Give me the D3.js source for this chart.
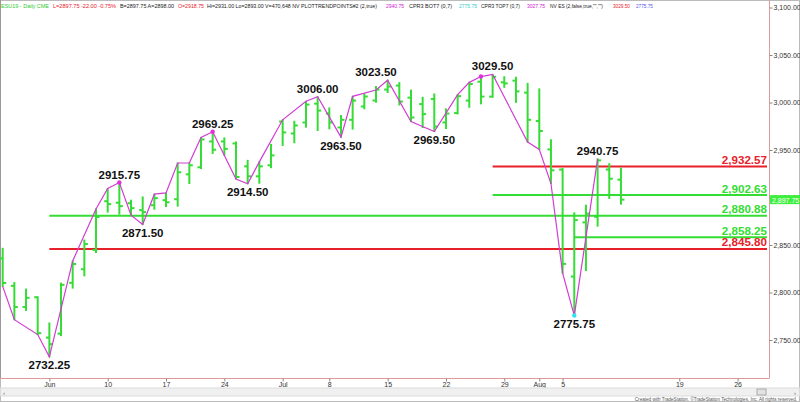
<!DOCTYPE html>
<html><head><meta charset="utf-8">
<script src="https://cdn.jsdelivr.net/npm/d3@7"></script>
<style>
html,body{margin:0;padding:0;background:#fff;overflow:hidden;}
svg{display:block;font-family:"Liberation Sans",Arial,sans-serif;}
</style></head><body>
<svg id="c" width="800" height="402"></svg>
<script>
// ---------- data ----------
const dates = ["2019-05-28","2019-05-29","2019-05-30","2019-05-31",
"2019-06-03","2019-06-04","2019-06-05","2019-06-06","2019-06-07",
"2019-06-10","2019-06-11","2019-06-12","2019-06-13","2019-06-14",
"2019-06-17","2019-06-18","2019-06-19","2019-06-20","2019-06-21",
"2019-06-24","2019-06-25","2019-06-26","2019-06-27","2019-06-28",
"2019-07-01","2019-07-02","2019-07-03","2019-07-05",
"2019-07-08","2019-07-09","2019-07-10","2019-07-11","2019-07-12",
"2019-07-15","2019-07-16","2019-07-17","2019-07-18","2019-07-19",
"2019-07-22","2019-07-23","2019-07-24","2019-07-25","2019-07-26",
"2019-07-29","2019-07-30","2019-07-31","2019-08-01","2019-08-02",
"2019-08-05","2019-08-06","2019-08-07","2019-08-08","2019-08-09",
"2019-08-12"];
const futureDates = ["2019-08-13","2019-08-14","2019-08-15","2019-08-16",
"2019-08-19","2019-08-20","2019-08-21","2019-08-22","2019-08-23",
"2019-08-26","2019-08-27","2019-08-28"];

const openV  = [2835.9,2807.0,2784.7,2795.0, 2752.5,2756.7,2810.2,2824.5,2844.8,
 2896.1,2894.5,2894.0,2886.7,2891.9, 2897.2,2898.2,2924.4,2931.8,2959.0,
 2959.0,2956.9,2932.8,2922.3,2933.9, 2980.0,2967.4,2979.0,2998.8,
 2988.4,2973.7,2981.8,2995.8,3002.1, 3013.6,3017.8,3005.1,2998.3,3003.6,
 2979.0,2988.9,3002.0,3021.9,3006.2, 3021.2,3023.0,3010.4,2980.6,2950.6,
 2929.4,2816.8,2873.8,2879.7,2929.4, 2918.75];
const highV  = [2846.5,2810.5,2803.6,2795.5, 2767.9,2809.9,2833.2,2855.2,2888.0,
 2909.4,2915.75,2897.2,2900.6,2903.5, 2904.8,2936.3,2936.3,2963.2,2969.25,
 2962.7,2958.5,2939.1,2937.5,2955.9, 2981.8,2980.3,3001.3,3006.0,
 2994.3,2986.3,3006.5,3009.1,3016.8, 3023.5,3020.9,3013.0,3005.5,3009.0,
 2993.3,3008.3,3021.2,3027.3,3029.5, 3027.1,3026.6,3020.1,3014.3,2960.8,
 2930.4,2883.9,2891.9,2940.75,2935.6, 2931.0];
const lowV   = [2806.5,2771.4,2781.1,2755.7, 2732.25,2754.6,2804.6,2817.5,2842.1,
 2884.6,2882.5,2881.4,2871.5,2887.7, 2890.4,2890.9,2914.7,2930.4,2946.4,
 2944.3,2919.5,2914.5,2915.0,2931.4, 2954.8,2957.7,2974.0,2970.5,
 2972.3,2963.5,2972.0,2993.4,3000.3, 3010.5,2997.4,2980.0,2973.7,2969.5,
 2972.6,2988.0,2995.0,2998.6,3005.5, 3016.0,3000.2,2958.3,2950.6,2914.7,
 2820.3,2775.75,2823.1,2869.9,2899.0, 2893.0];
const closeV = [2810.0,2784.7,2794.4,2757.2, 2745.7,2808.1,2830.0,2851.0,2879.4,
 2893.0,2890.9,2888.8,2884.6,2899.3, 2895.0,2926.5,2933.9,2961.1,2950.3,
 2951.2,2921.6,2922.3,2932.8,2944.3, 2968.5,2975.8,2997.8,2991.5,
 2979.0,2981.8,3002.0,3006.3,3013.6, 3016.8,3001.0,2984.2,2987.8,2974.7,
 2988.4,3006.7,3019.5,3006.2,3027.1, 3020.1,3011.7,2981.8,2970.0,2928.6,
 2830.1,2876.2,2883.0,2939.1,2919.75, 2897.75];

// swing (trend-point) line
const swingDates = ["2019-05-28","2019-05-29","2019-05-31","2019-06-03","2019-06-05",
 "2019-06-07","2019-06-10","2019-06-11","2019-06-12","2019-06-13","2019-06-14","2019-06-17",
 "2019-06-18","2019-06-19","2019-06-20","2019-06-21","2019-06-25","2019-06-26","2019-06-27",
 "2019-07-01","2019-07-03","2019-07-05","2019-07-09","2019-07-10","2019-07-12","2019-07-15",
 "2019-07-17","2019-07-19","2019-07-23","2019-07-24","2019-07-25","2019-07-26","2019-07-31",
 "2019-08-01","2019-08-02","2019-08-05","2019-08-06","2019-08-08"];
const swingValues = [2806.5,2771.4,2755.7,2732.25,2833.2,
 2888.0,2909.4,2915.75,2881.4,2871.5,2903.5,2904.8,
 2936.3,2936.3,2963.2,2969.25,2919.5,2914.5,2937.5,
 2981.8,3001.3,3006.0,2963.5,3006.5,3013.2,3023.5,
 2980.0,2969.5,3008.3,3021.2,3027.3,3029.5,2958.3,
 2950.6,2914.7,2820.3,2775.75,2940.75];

// labelled pivots
const pivotDates  = ["2019-06-03","2019-06-11","2019-06-13","2019-06-21","2019-06-26",
 "2019-07-05","2019-07-09","2019-07-12","2019-07-19","2019-07-26","2019-08-06","2019-08-08"];
const pivotValues = [2732.25,2915.75,2871.50,2969.25,2914.50,
 3006.00,2963.50,3023.50,2969.50,3029.50,2775.75,2940.75];
const pivotSide   = ["below","above","below","above","below",
 "above","below","above","below","above","below","above"];

// marker dots
const dotDates  = ["2019-06-11","2019-06-21","2019-07-25","2019-08-06"];
const dotValues = [2915.75,2969.25,3027.3,2775.75];
const dotKinds  = ["top","top","top","bottom"];

// retracement levels
const levelValues = [2932.57,2902.63,2880.88,2858.25,2845.80];
const levelKinds  = ["red","green","green","green","red"];
const levelStart  = ["2019-07-26","2019-07-26","2019-06-03","2019-08-06","2019-06-03"];

// axes
const yTicks = [2750,2800,2850,2900,2950,3000,3050,3100];
const xTickDates  = ["2019-06-03","2019-06-10","2019-06-17","2019-06-24","2019-07-01",
 "2019-07-08","2019-07-15","2019-07-22","2019-07-29","2019-08-01","2019-08-05",
 "2019-08-19","2019-08-26"];
const xTickLabels = ["Jun","10","17","24","Jul","8","15","22","29","Aug","5","19","26"];
const lastPrice = 2897.75;

// header (status line): text, colour key
const headerTexts  = ["ESU19 - Daily  CME","L=2897.75  -22.00  -0.75%","B=2897.75  A=2898.00",
 "O=2918.75","Hi=2931.00  Lo=2893.00  V=470,648  NV  PLOTTRENDPOINTS#2 (2,true)","2940.75",
 "CPR3 BOT7 (0,7)","2775.75","CPR3 TOP7 (0,7)","3027.75","NV ES (2,false,true,\"\",\"\")",
 "3029.50","2775.75"];
const headerKeys   = ["g","r","k","r","k","m","k","c","k","m","k","r","b"];

// ---------- drawing ----------
const C = {
  bar:"#35dc35", green:"#33dd33", red:"#e8202a", mag:"#d23cd2",
  axis:"#e09a9a", text:"#333"
};
const headerColors = {g:"#2ecc2e",r:"#e8202a",k:"#222",m:"#d020d0",c:"#33cccc",b:"#5555ee"};
// horizontal placement of status-line pieces (x start, width)
const headerX = [1,53,120,178,207,386,409,459,481,527,550,613,636];
const headerW = [48,63,54,26,170,18,43,18,39,18,53,17,17];

const svg = d3.select("#c");
const W = 800, H = 402;
const plotRight = 769, plotBottom = 378;

const allDates = dates.concat(futureDates);
const x = d3.scalePoint().domain(allDates).range([2.7, 2.7 + 11.665*(allDates.length-1)]);
const y = d3.scaleLinear().domain([2750, 3100]).range([340, 7.5]);

// outer frame
svg.append("rect").attr("x",0.5).attr("y",0.5).attr("width",W-1).attr("height",H-1)
  .attr("fill","#fff").attr("stroke","#bbb");
svg.append("line").attr("x1",0.5).attr("x2",0.5).attr("y1",0).attr("y2",plotBottom)
  .attr("stroke","#999");

// header
const hdr = svg.append("g").attr("font-size",5.2);
headerTexts.forEach((t,i)=>{
  hdr.append("text").attr("x",headerX[i]).attr("y",7.5).attr("fill",headerColors[headerKeys[i]])
    .attr("textLength",headerW[i]).attr("lengthAdjust","spacingAndGlyphs").text(t);
});

// retracement levels
const lv = svg.append("g");
levelValues.forEach((v,i)=>{
  const col = levelKinds[i]==="red"?C.red:C.green;
  lv.append("line").attr("x1",x(levelStart[i])).attr("x2",767)
    .attr("y1",y(v)).attr("y2",y(v)).attr("stroke",col).attr("stroke-width",2);
  lv.append("text").attr("x",767).attr("y",y(v)-2.5).attr("text-anchor","end")
    .attr("font-size",11.6).attr("font-weight","bold").attr("fill",col)
    .text(d3.format(",.2f")(v));
});

// OHLC bars
const bars = svg.append("g").attr("stroke",C.bar).attr("stroke-width",2);
dates.forEach((d,i)=>{
  const cx = x(d);
  bars.append("line").attr("x1",cx).attr("x2",cx).attr("y1",y(highV[i])-0.5).attr("y2",y(lowV[i])+0.5);
  bars.append("line").attr("x1",cx-3.5).attr("x2",cx).attr("y1",y(openV[i])).attr("y2",y(openV[i]));
  bars.append("line").attr("x1",cx).attr("x2",cx+3.5).attr("y1",y(closeV[i])).attr("y2",y(closeV[i]));
});

// swing line
svg.append("path")
  .attr("d", d3.line().x(d=>x(d[0])).y(d=>y(d[1]))(swingDates.map((d,i)=>[d,swingValues[i]])))
  .attr("fill","none").attr("stroke",C.mag).attr("stroke-width",1.2);

// dots
dotDates.forEach((d,i)=>{
  svg.append("circle").attr("cx",x(d)).attr("cy",y(dotValues[i])).attr("r",2.2)
    .attr("fill",dotKinds[i]==="top"?"#e030e0":"#30e0f0");
});

// pivot labels
const pl = svg.append("g").attr("font-size",11.5).attr("font-weight","bold").attr("fill","#111")
  .attr("text-anchor","middle");
pivotDates.forEach((d,i)=>{
  const py = y(pivotValues[i]);
  pl.append("text").attr("x",x(d)).attr("y",pivotSide[i]==="above"?py-4:py+12.5)
    .text(pivotValues[i].toFixed(2));
});

// axis lines
svg.append("line").attr("x1",0).attr("x2",plotRight).attr("y1",plotBottom+0.5).attr("y2",plotBottom+0.5)
  .attr("stroke",C.axis);
svg.append("line").attr("x1",plotRight+0.5).attr("x2",plotRight+0.5).attr("y1",0).attr("y2",plotBottom+0.5)
  .attr("stroke",C.axis);

// y axis
const ya = svg.append("g").attr("transform",`translate(${plotRight+0.5},0)`)
  .call(d3.axisRight(y).tickValues(yTicks).tickSize(3).tickPadding(1).tickFormat(d3.format(",.2f")));
ya.select(".domain").remove();
ya.selectAll(".tick line").attr("stroke","#888");
ya.selectAll("text").attr("font-size",7).attr("fill",C.text).attr("font-family","Liberation Sans, Arial");

// last price marker
const lpY = y(lastPrice);
svg.append("rect").attr("x",770).attr("y",lpY-4.5).attr("width",30).attr("height",9).attr("fill","#3cf03c");
svg.append("text").attr("x",772).attr("y",lpY+3).attr("font-size",7).attr("fill","#fff")
  .text(d3.format(",.2f")(lastPrice));

// x axis
const xa = svg.append("g").attr("transform",`translate(0,${plotBottom+0.5})`)
  .call(d3.axisBottom(x).tickValues(xTickDates).tickSize(3).tickPadding(1)
    .tickFormat(d=>xTickLabels[xTickDates.indexOf(d)]));
xa.select(".domain").remove();
xa.selectAll(".tick line").attr("stroke","#888");
xa.selectAll("text").attr("font-size",7).attr("fill",C.text).attr("font-family","Liberation Sans, Arial");

// scrollbar
svg.append("rect").attr("x",0.5).attr("y",388).attr("width",W-1).attr("height",8).attr("fill","#f0f0f0").attr("stroke","#dcdcdc");
svg.append("rect").attr("x",757).attr("y",389).attr("width",9).attr("height",6).attr("fill","#e2e2e2").attr("stroke","#aaa");
svg.append("text").attr("x",3).attr("y",394.5).attr("font-size",6).attr("fill","#666").text("‹");
svg.append("text").attr("x",794).attr("y",394.5).attr("font-size",6).attr("fill","#666").text("›");

// credit
svg.append("text").attr("x",797).attr("y",400.5).attr("text-anchor","end").attr("font-size",4.6)
  .attr("fill","#555").text("Created with TradeStation. ©TradeStation Technologies, Inc. All rights reserved.");
</script>
</body></html>
